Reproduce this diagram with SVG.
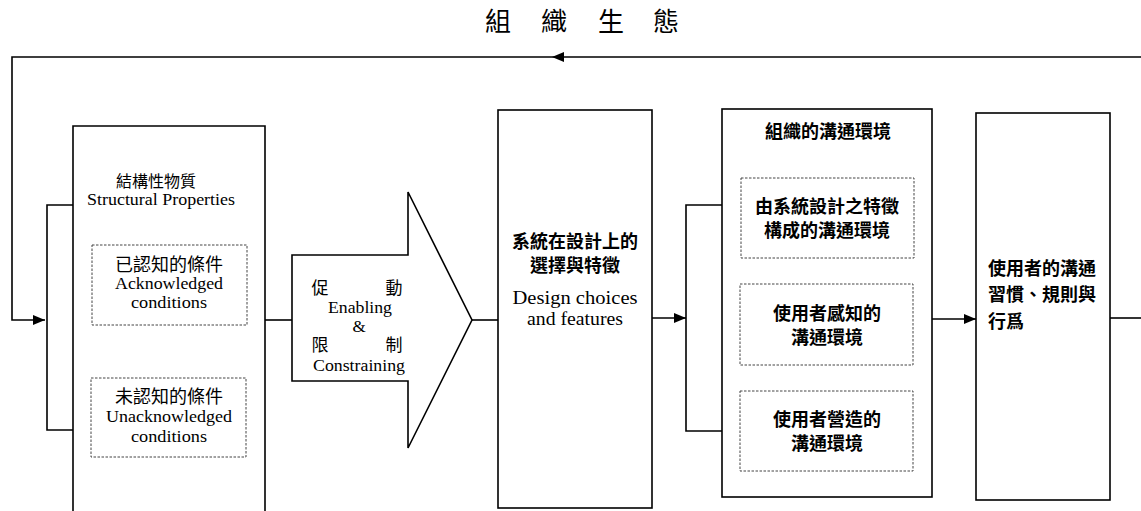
<svg xmlns="http://www.w3.org/2000/svg" width="1141" height="511" viewBox="0 0 1141 511">
<defs>
<marker id="ah" viewBox="0 0 12 10" refX="12" refY="5" markerWidth="12" markerHeight="10" markerUnits="userSpaceOnUse" orient="auto"><path d="M0,0 L12,5 L0,10 Z" fill="#000"/></marker>
<style>
.box{fill:#fff;stroke:#000;stroke-width:1.6}
.dot{fill:none;stroke:#444;stroke-width:1;stroke-dasharray:2.5 1.5}
.ln{fill:none;stroke:#000;stroke-width:1.6}
.zh{font-family:"Noto Sans CJK TC","Noto Sans CJK SC",sans-serif;fill:#000}
.zb{font-family:"Noto Sans CJK TC","Noto Sans CJK SC",sans-serif;font-weight:bold;fill:#000}
.en{font-family:"Liberation Serif",serif;fill:#000}
</style>
</defs>
<rect width="1141" height="511" fill="#fff"/>
<g id="title"><text class="zh" font-size="26" y="31" x="485 512 541 570 598 626 653">組 織 生 態</text></g>
<g id="connectors">
<path class="ln" d="M1141,57 H12 V320 H45" marker-end="url(#ah)"/>
<path d="M552,57 L564,52 L564,62 Z" fill="#000"/>
<path class="ln" d="M73,205 H47 V430 H73"/>
<line class="ln" x1="265" y1="320" x2="292" y2="320"/>
<line class="ln" x1="472" y1="320" x2="498" y2="320"/>
<line class="ln" x1="652" y1="318" x2="686" y2="318" marker-end="url(#ah)"/>
<path class="ln" d="M722,205 H686 V431 H722"/>
<line class="ln" x1="932" y1="319" x2="976" y2="319" marker-end="url(#ah)"/>
<line class="ln" x1="1110" y1="318" x2="1141" y2="318"/>
</g>
<g id="structural">
<path class="box" d="M73,530 V126 H265 V530"/>
<text class="zh" font-size="16" x="116" y="187">結構性物質</text>
<text class="en" font-size="16" x="87" y="205" textLength="148" lengthAdjust="spacingAndGlyphs">Structural Properties</text>
<g id="acknowledged">
<rect class="dot" x="92" y="245" width="155" height="80"/>
<text class="zh" font-size="18" x="169" y="271" text-anchor="middle">已認知的條件</text>
<text class="en" font-size="17" x="169" y="289" text-anchor="middle" textLength="108" lengthAdjust="spacingAndGlyphs">Acknowledged</text>
<text class="en" font-size="17" x="169" y="308" text-anchor="middle" textLength="76" lengthAdjust="spacingAndGlyphs">conditions</text>
</g>
<g id="unacknowledged">
<rect class="dot" x="91" y="378" width="155" height="79"/>
<text class="zh" font-size="18" x="169" y="403" text-anchor="middle">未認知的條件</text>
<text class="en" font-size="17" x="169" y="422" text-anchor="middle" textLength="126" lengthAdjust="spacingAndGlyphs">Unacknowledged</text>
<text class="en" font-size="17" x="169" y="442" text-anchor="middle" textLength="76" lengthAdjust="spacingAndGlyphs">conditions</text>
</g>
</g>
<g id="enabling">
<path class="box" d="M292,255 H408 V192 L472,320 L408,448 V381 H292 Z"/>
<text class="zh" font-size="17" x="320" y="294" text-anchor="middle">促</text>
<text class="zh" font-size="17" x="394" y="294" text-anchor="middle">動</text>
<text class="en" font-size="17" x="360" y="313" text-anchor="middle" textLength="64" lengthAdjust="spacingAndGlyphs">Enabling</text>
<text class="en" font-size="17" x="359" y="332" text-anchor="middle">&amp;</text>
<text class="zh" font-size="17" x="320" y="351" text-anchor="middle">限</text>
<text class="zh" font-size="17" x="394" y="351" text-anchor="middle">制</text>
<text class="en" font-size="17" x="359" y="371" text-anchor="middle" textLength="92" lengthAdjust="spacingAndGlyphs">Constraining</text>
</g>
<g id="design">
<rect class="box" x="498" y="110" width="154" height="398"/>
<text class="zb" font-size="18" x="575" y="248" text-anchor="middle">系統在設計上的</text>
<text class="zb" font-size="18" x="575" y="272" text-anchor="middle">選擇與特徵</text>
<text class="en" font-size="18" x="575" y="304" text-anchor="middle" textLength="125" lengthAdjust="spacingAndGlyphs">Design choices</text>
<text class="en" font-size="18" x="575" y="325" text-anchor="middle" textLength="96" lengthAdjust="spacingAndGlyphs">and features</text>
</g>
<g id="org">
<rect class="box" x="722" y="109" width="210" height="388"/>
<text class="zb" font-size="18" x="828" y="138" text-anchor="middle">組織的溝通環境</text>
<g id="orgA">
<rect class="dot" x="741" y="178" width="173" height="80"/>
<text class="zb" font-size="18" x="827" y="213" text-anchor="middle">由系統設計之特徵</text>
<text class="zb" font-size="18" x="827" y="237" text-anchor="middle">構成的溝通環境</text>
</g>
<g id="orgB">
<rect class="dot" x="740" y="284" width="173" height="81"/>
<text class="zb" font-size="18" x="827" y="320" text-anchor="middle">使用者感知的</text>
<text class="zb" font-size="18" x="827" y="344" text-anchor="middle">溝通環境</text>
</g>
<g id="orgC">
<rect class="dot" x="740" y="391" width="173" height="80"/>
<text class="zb" font-size="18" x="827" y="426" text-anchor="middle">使用者營造的</text>
<text class="zb" font-size="18" x="827" y="450" text-anchor="middle">溝通環境</text>
</g>
</g>
<g id="user">
<rect class="box" x="976" y="113" width="134" height="387"/>
<text class="zb" font-size="18" x="988" y="275">使用者的溝通</text>
<text class="zb" font-size="18" x="988" y="301">習慣、規則與</text>
<text class="zb" font-size="18" x="988" y="328">行爲</text>
</g>
</svg>
